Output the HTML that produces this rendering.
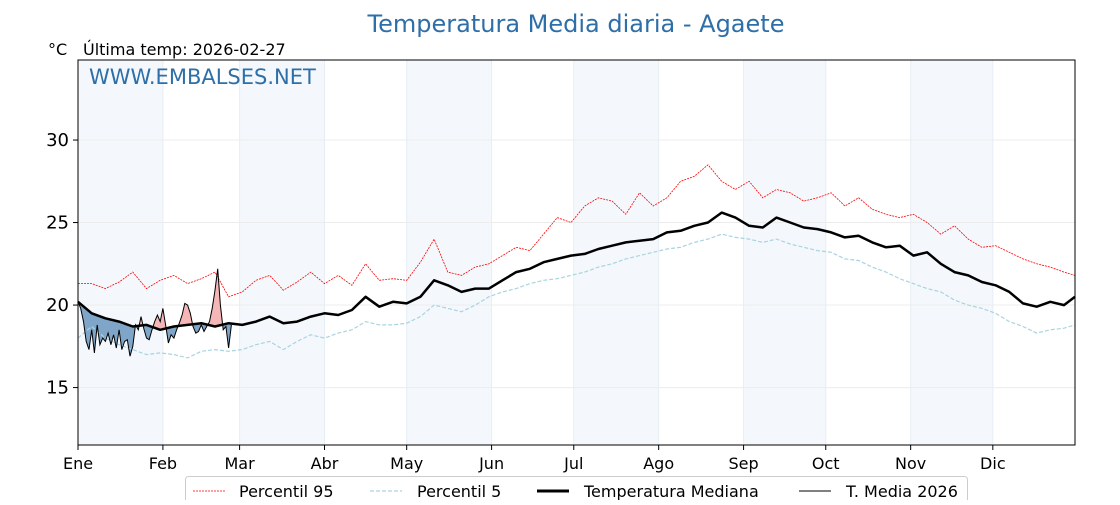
<!DOCTYPE html>
<html><head><meta charset="utf-8"><style>
body{margin:0;background:#fff;font-family:"Liberation Sans","DejaVu Sans",sans-serif}
svg text{font-family:"DejaVu Sans","Liberation Sans",sans-serif}
</style></head><body>
<svg id="chart" width="1120" height="500" viewBox="0 0 1120 500">
<text x="576" y="32" font-size="24" fill="#2e6fa8" text-anchor="middle">Temperatura Media diaria - Agaete</text>
<text x="48" y="55" font-size="16" fill="#000">°C</text>
<text x="83" y="55" font-size="16" fill="#000">Última temp: 2026-02-27</text>
<g id="bands"></g><g id="grid"></g><g id="fills"></g><g id="lines"></g>
<text x="89" y="84" font-size="21" fill="#2e6fa8">WWW.EMBALSES.NET</text>
<rect x="78" y="60" width="997" height="385" fill="none" stroke="#000" stroke-width="1"/>
<g id="axes"></g>
<g>
<rect x="185.5" y="476.5" width="782" height="30" rx="3" fill="#fff" stroke="#ccc"/>
<line x1="193" y1="491" x2="225" y2="491" stroke="red" stroke-width="0.8" stroke-dasharray="2,1"/>
<text x="239" y="497" font-size="16">Percentil 95</text>
<line x1="370" y1="491" x2="402" y2="491" stroke="#a8d4e0" stroke-width="1.2" stroke-dasharray="4,2"/>
<text x="417" y="497" font-size="16">Percentil 5</text>
<line x1="537" y1="491" x2="569" y2="491" stroke="#000" stroke-width="3"/>
<text x="584" y="497" font-size="16">Temperatura Mediana</text>
<line x1="799" y1="491" x2="831" y2="491" stroke="#000" stroke-width="1"/>
<text x="846" y="497" font-size="16">T. Media 2026</text>
</g>
</svg>
<script>
const monthLabels=["Ene","Feb","Mar","Abr","May","Jun","Jul","Ago","Sep","Oct","Nov","Dic"];
const monthStarts=[0,31,59,90,120,151,181,212,243,273,304,334];
const yTicks=[15,20,25,30];
const p50=[20.2,19.5,19.2,19.0,18.7,18.8,18.5,18.7,18.8,18.9,18.7,18.9,18.8,19.0,19.3,18.9,19.0,19.3,19.5,19.4,19.7,20.5,19.9,20.2,20.1,20.5,21.5,21.2,20.8,21.0,21.0,21.5,22.0,22.2,22.6,22.8,23.0,23.1,23.4,23.6,23.8,23.9,24.0,24.4,24.5,24.8,25.0,25.6,25.3,24.8,24.7,25.3,25.0,24.7,24.6,24.4,24.1,24.2,23.8,23.5,23.6,23.0,23.2,22.5,22.0,21.8,21.4,21.2,20.8,20.1,19.9,20.2,20.0,20.5];
const p95=[21.3,21.3,21.0,21.4,22.0,21.0,21.5,21.8,21.3,21.6,22.0,20.5,20.8,21.5,21.8,20.9,21.4,22.0,21.3,21.8,21.2,22.5,21.5,21.6,21.5,22.6,24.0,22.0,21.8,22.3,22.5,23.0,23.5,23.3,24.3,25.3,25.0,26.0,26.5,26.3,25.5,26.8,26.0,26.5,27.5,27.8,28.5,27.5,27.0,27.5,26.5,27.0,26.8,26.3,26.5,26.8,26.0,26.5,25.8,25.5,25.3,25.5,25.0,24.3,24.8,24.0,23.5,23.6,23.2,22.8,22.5,22.3,22.0,21.8];
const p5=[18.0,18.7,18.0,17.6,17.3,17.0,17.1,17.0,16.8,17.2,17.3,17.2,17.3,17.6,17.8,17.3,17.8,18.2,18.0,18.3,18.5,19.0,18.8,18.8,18.9,19.3,20.0,19.8,19.6,20.0,20.5,20.8,21.0,21.3,21.5,21.6,21.8,22.0,22.3,22.5,22.8,23.0,23.2,23.4,23.5,23.8,24.0,24.3,24.1,24.0,23.8,24.0,23.7,23.5,23.3,23.2,22.8,22.7,22.3,22.0,21.6,21.3,21.0,20.8,20.3,20.0,19.8,19.5,19.0,18.7,18.3,18.5,18.6,18.8];
const t2026=[20.2,19.8,19.0,17.8,17.3,18.5,17.1,18.8,17.6,18.0,17.8,18.3,17.6,18.2,17.4,18.5,17.3,17.8,17.9,16.9,17.5,18.8,18.5,19.3,18.6,18.0,17.9,18.5,19.0,19.4,19.0,19.8,18.8,17.7,18.2,18.0,18.5,18.9,19.4,20.1,20.0,19.5,18.7,18.3,18.4,18.8,18.4,18.7,19.0,19.8,20.9,22.2,20.0,18.5,18.7,17.4,18.8];
const X0=78,X1=1075,Y0=60,Y1=445,DMAX=364,TMIN=11.52,TMAX=34.85;
const xs=d=>X0+d*(X1-X0)/DMAX;
const ys=t=>Y1-(t-TMIN)*(Y1-Y0)/(TMAX-TMIN);
const pday=i=>Math.min(i*5,DMAX);
const NS="http://www.w3.org/2000/svg";
function mk(tag,attrs,parent){const e=document.createElementNS(NS,tag);for(const k in attrs)e.setAttribute(k,attrs[k]);parent.appendChild(e);return e;}
const bands=document.getElementById('bands'),grid=document.getElementById('grid'),axes=document.getElementById('axes'),lines=document.getElementById('lines'),fills=document.getElementById('fills');
monthStarts.forEach((m,i)=>{
  const end=i<11?monthStarts[i+1]:DMAX;
  if(i%2===0){const r=mk('rect',{x:xs(m),y:Y0,width:xs(end)-xs(m),height:Y1-Y0,fill:'#f4f8fc'},bands);
    
    }
  const g=mk('line',{x1:xs(m),x2:xs(m),y1:Y0,y2:Y1,stroke:'#e6eef5','stroke-width':1},grid);
  
  
  mk('line',{x1:xs(m),x2:xs(m),y1:Y1,y2:Y1+5,stroke:'#000'},axes);
  const t=mk('text',{x:xs(m),y:469,'font-size':16,'text-anchor':'middle'},axes);t.textContent=monthLabels[i];
  
  
});
yTicks.forEach(v=>{
  const g=mk('line',{x1:X0,x2:X1,y1:ys(v),y2:ys(v),stroke:'#ececec','stroke-width':1},grid);
  
  
  mk('line',{x1:X0-5,x2:X0,y1:ys(v),y2:ys(v),stroke:'#000'},axes);
  const t=mk('text',{x:X0-9,y:ys(v)+6,'font-size':18,'text-anchor':'end'},axes);t.textContent=v;
  
  
});
const pts=(arr,dayf)=>arr.map((v,i)=>xs(dayf(i)).toFixed(1)+','+ys(v).toFixed(1)).join(' ');
// fills between 2026 and median, via clip paths
const medPts=pts(p50,pday);
const defs=mk('defs',{},document.getElementById('chart'));
const cu=mk('clipPath',{id:'above'},defs);mk('polygon',{points:xs(0)+','+Y0+' '+medPts+' '+X1+','+Y0},cu);
const cl=mk('clipPath',{id:'below'},defs);mk('polygon',{points:xs(0)+','+Y1+' '+medPts+' '+X1+','+Y1},cl);
function medAt(d){const i=Math.min(Math.floor(d/5),p50.length-2);const f=(d-pday(i))/(pday(i+1)-pday(i));return p50[i]+(p50[i+1]-p50[i])*f;}
const n=t2026.length;
const tPts=pts(t2026,i=>i);
let back=[];for(let i=n-1;i>=0;i--)back.push(xs(i).toFixed(1)+','+ys(medAt(i)).toFixed(1));
const poly=tPts+' '+back.join(' ');
const fr=mk('polygon',{points:poly,fill:'#f4b6b6','clip-path':'url(#above)'},fills);


const fb=mk('polygon',{points:poly,fill:'#7fa6c8','clip-path':'url(#below)'},fills);


const l95=mk('polyline',{points:pts(p95,pday),fill:'none',stroke:'red','stroke-width':0.8,'stroke-dasharray':'2,1'},lines);


const l5=mk('polyline',{points:pts(p5,pday),fill:'none',stroke:'#a8d4e0','stroke-width':1.2,'stroke-dasharray':'4,2'},lines);


const lm=mk('polyline',{points:medPts,fill:'none',stroke:'#000','stroke-width':2.5,'stroke-linejoin':'round'},lines);


const l26=mk('polyline',{points:tPts,fill:'none',stroke:'#000','stroke-width':1},lines);


</script>
</body></html>
